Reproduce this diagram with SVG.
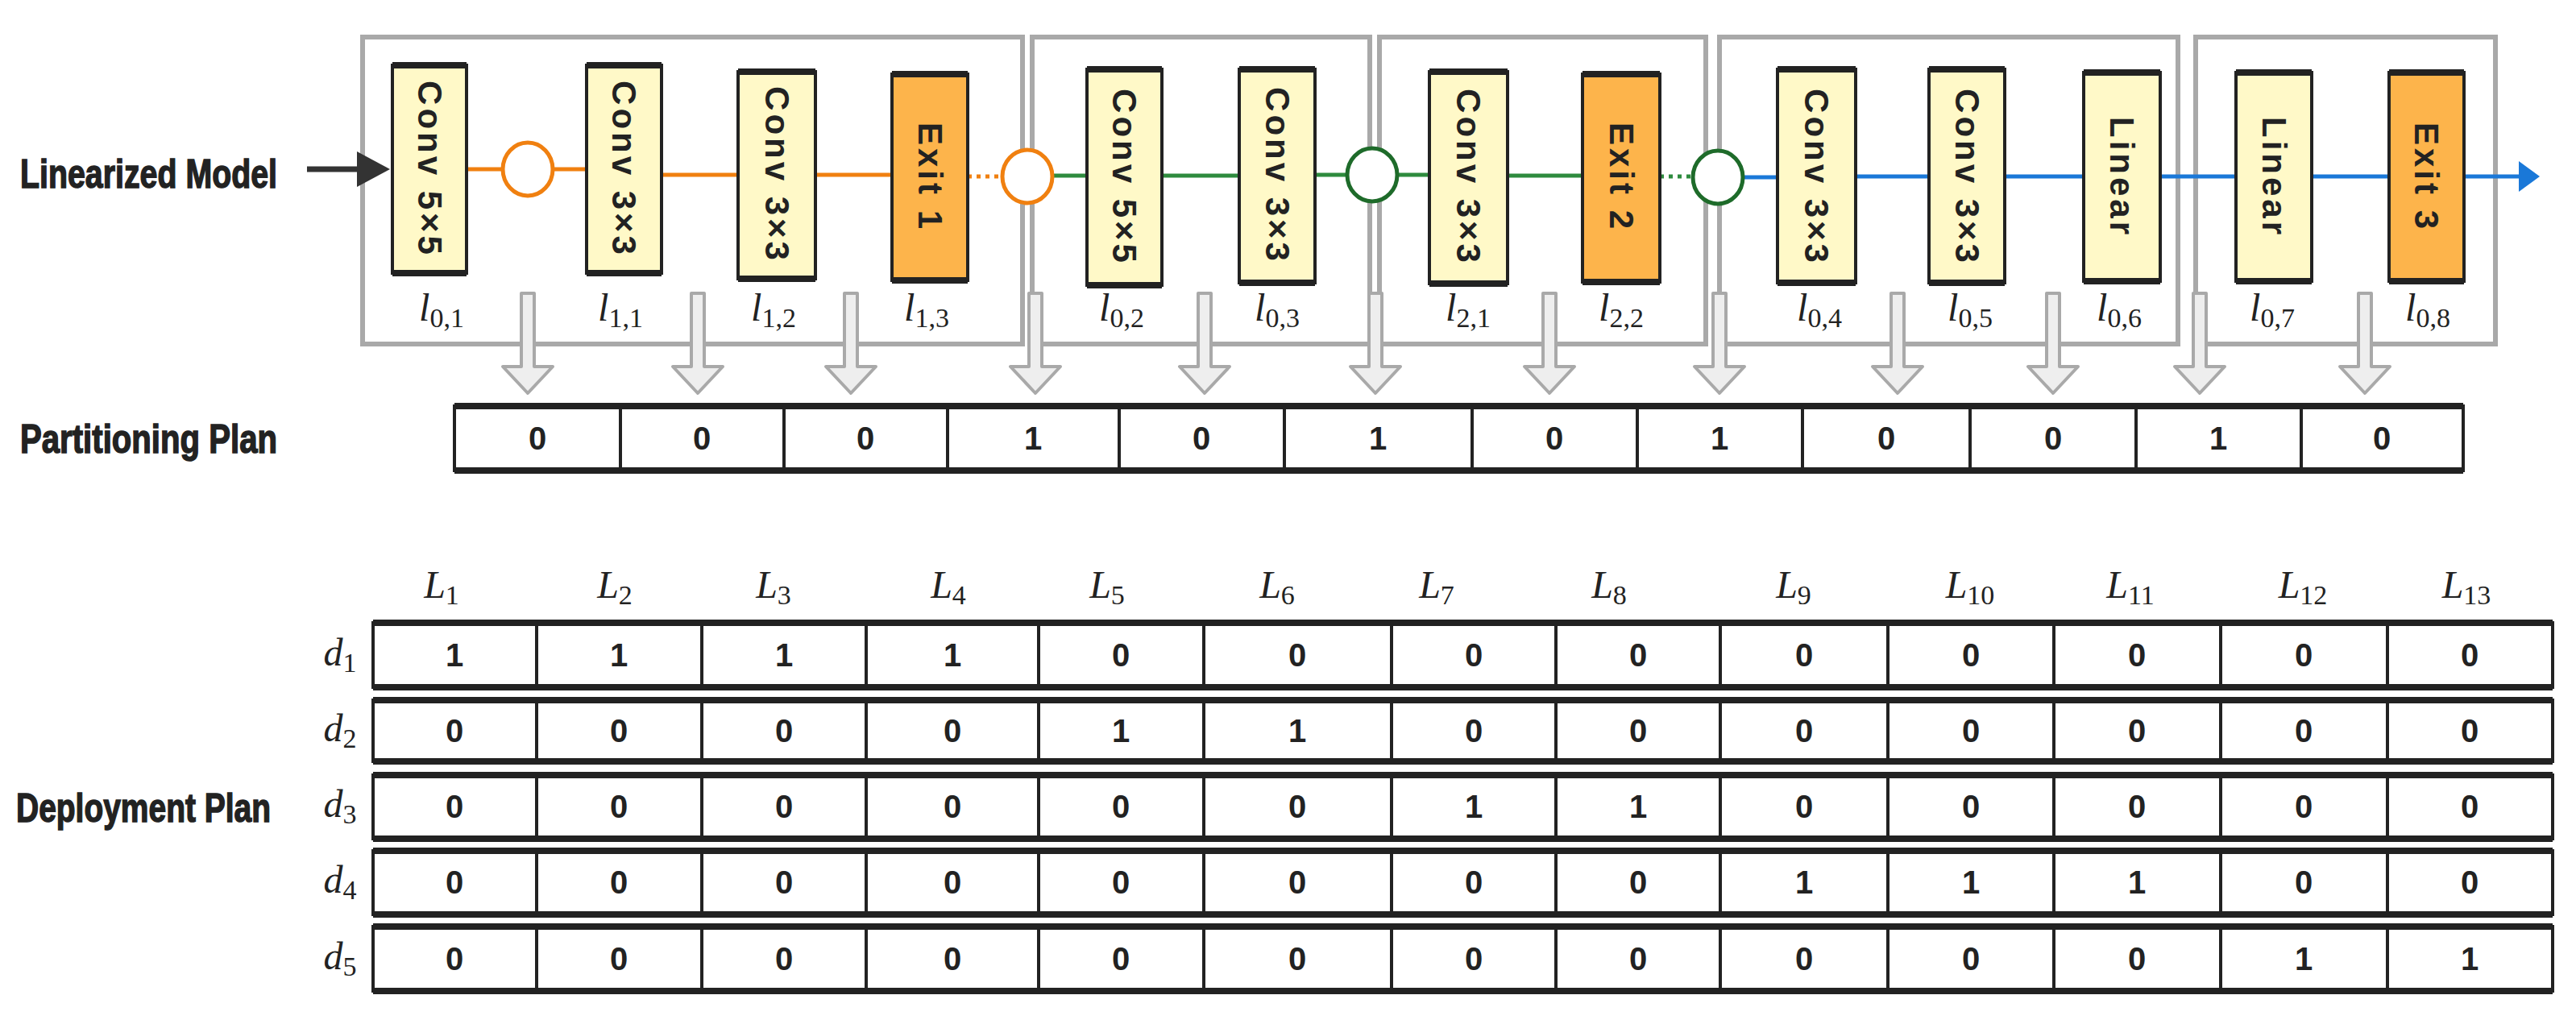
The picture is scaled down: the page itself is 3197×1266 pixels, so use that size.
<svg xmlns="http://www.w3.org/2000/svg" width="3197" height="1266" viewBox="0 0 3197 1266">
<style>
.bg{fill:#fff}
.outer{fill:none;stroke:#a9a9a9;stroke-width:6}
.blk{fill:#fff9c8;stroke:#222;stroke-width:4}
.exit{fill:#fdb44b;stroke:#222;stroke-width:4}
.edge{stroke:#222;stroke-width:8}
.bt{font-family:"Liberation Sans",Arial,sans-serif;font-weight:bold;font-size:42px;fill:#222;letter-spacing:4px;text-anchor:middle;dominant-baseline:central}
.ml{font-family:"Liberation Serif","Times New Roman",serif;font-style:italic;font-size:48px;fill:#222;text-anchor:middle}
.sub{font-style:normal;font-size:34px}
.hd{font-family:"Liberation Sans Narrow","Liberation Sans",sans-serif;font-weight:bold;font-size:50px;fill:#222;dominant-baseline:central;stroke:#222;stroke-width:1.5}
.cell{fill:#fff;stroke:#222;stroke-width:4}
.val{font-family:"Liberation Sans",Arial,sans-serif;font-weight:bold;font-size:40px;fill:#222;text-anchor:middle;dominant-baseline:central}
.darr{fill:#eee;stroke:#a9a9a9;stroke-width:4;stroke-linejoin:round}
.or{stroke:#f08010;stroke-width:5;fill:none}
.gr{stroke:#2e8b3e;stroke-width:5;fill:none}
.bl{stroke:#1a78d8;stroke-width:5;fill:none}
</style>
<rect class="bg" width="3197" height="1266"/>
<g id="groups">
<rect class="outer" x="450" y="46" width="819" height="381"/>
<rect class="outer" x="1281" y="46" width="419" height="381"/>
<rect class="outer" x="1712" y="46" width="405" height="381"/>
<rect class="outer" x="2134" y="46" width="569" height="381"/>
<rect class="outer" x="2725" y="46" width="372" height="381"/>
</g>
<g id="connectors">
<line x1="381" y1="210" x2="455" y2="210" stroke="#333" stroke-width="7"/>
<path d="M443,188 L484,210 L443,232 z" fill="#333"/>
<line class="or" x1="579" y1="210" x2="623" y2="210"/>
<line class="or" x1="687" y1="210" x2="728" y2="210"/>
<line class="or" x1="821" y1="217" x2="916" y2="217"/>
<line class="or" x1="1012" y1="217" x2="1107" y2="217"/>
<line class="or" x1="1201" y1="219" x2="1243" y2="219" stroke-dasharray="5,6"/>
<line class="gr" x1="1307" y1="218" x2="1349" y2="218"/>
<line class="gr" x1="1442" y1="218" x2="1538" y2="218"/>
<line class="gr" x1="1632" y1="217" x2="1671" y2="217"/>
<line class="gr" x1="1735" y1="217" x2="1774" y2="217"/>
<line class="gr" x1="1871" y1="218" x2="1964" y2="218"/>
<line class="gr" x1="2060" y1="219" x2="2100" y2="219" stroke-dasharray="5,6"/>
<line class="bl" x1="2164" y1="220" x2="2206" y2="220"/>
<line class="bl" x1="2303" y1="219" x2="2394" y2="219"/>
<line class="bl" x1="2488" y1="219" x2="2586" y2="219"/>
<line class="bl" x1="2681" y1="219" x2="2775" y2="219"/>
<line class="bl" x1="2869" y1="219" x2="2965" y2="219"/>
<line class="bl" x1="3058" y1="219" x2="3130" y2="219"/>
<path d="M3126,200 L3152,219 L3126,238 z" fill="#1a78d8"/>
<ellipse cx="655" cy="210" rx="31" ry="33" fill="#fff" stroke="#f08010" stroke-width="5"/>
<ellipse cx="1275" cy="219" rx="31" ry="33" fill="#fff" stroke="#f08010" stroke-width="5"/>
<ellipse cx="1703" cy="217" rx="31" ry="33" fill="#fff" stroke="#1e6b2a" stroke-width="5"/>
<ellipse cx="2132" cy="220" rx="31" ry="33" fill="#fff" stroke="#1e6b2a" stroke-width="5"/>
</g>
<g id="n1"><rect class="blk" x="487" y="81" width="92" height="258"/><line class="edge" x1="487" y1="81" x2="579" y2="81"/><line class="edge" x1="487" y1="339" x2="579" y2="339"/><text class="bt" transform="translate(533,210) rotate(90)">Conv 5×5</text></g>
<g id="n2"><rect class="blk" x="728" y="81" width="93" height="258"/><line class="edge" x1="728" y1="81" x2="821" y2="81"/><line class="edge" x1="728" y1="339" x2="821" y2="339"/><text class="bt" transform="translate(774,210) rotate(90)">Conv 3×3</text></g>
<g id="n3"><rect class="blk" x="916" y="89" width="96" height="257"/><line class="edge" x1="916" y1="89" x2="1012" y2="89"/><line class="edge" x1="916" y1="346" x2="1012" y2="346"/><text class="bt" transform="translate(964,217) rotate(90)">Conv 3×3</text></g>
<g id="n4"><rect class="exit" x="1107" y="92" width="94" height="256"/><line class="edge" x1="1107" y1="92" x2="1201" y2="92"/><line class="edge" x1="1107" y1="348" x2="1201" y2="348"/><text class="bt" transform="translate(1154,220) rotate(90)">Exit 1</text></g>
<g id="n5"><rect class="blk" x="1349" y="86" width="93" height="268"/><line class="edge" x1="1349" y1="86" x2="1442" y2="86"/><line class="edge" x1="1349" y1="354" x2="1442" y2="354"/><text class="bt" transform="translate(1395,220) rotate(90)">Conv 5×5</text></g>
<g id="n6"><rect class="blk" x="1538" y="86" width="94" height="265"/><line class="edge" x1="1538" y1="86" x2="1632" y2="86"/><line class="edge" x1="1538" y1="351" x2="1632" y2="351"/><text class="bt" transform="translate(1585,218) rotate(90)">Conv 3×3</text></g>
<g id="n7"><rect class="blk" x="1774" y="89" width="97" height="263"/><line class="edge" x1="1774" y1="89" x2="1871" y2="89"/><line class="edge" x1="1774" y1="352" x2="1871" y2="352"/><text class="bt" transform="translate(1822,220) rotate(90)">Conv 3×3</text></g>
<g id="n8"><rect class="exit" x="1964" y="92" width="96" height="258"/><line class="edge" x1="1964" y1="92" x2="2060" y2="92"/><line class="edge" x1="1964" y1="350" x2="2060" y2="350"/><text class="bt" transform="translate(2012,220) rotate(90)">Exit 2</text></g>
<g id="n9"><rect class="blk" x="2206" y="86" width="97" height="265"/><line class="edge" x1="2206" y1="86" x2="2303" y2="86"/><line class="edge" x1="2206" y1="351" x2="2303" y2="351"/><text class="bt" transform="translate(2254,220) rotate(90)">Conv 3×3</text></g>
<g id="n10"><rect class="blk" x="2394" y="86" width="94" height="265"/><line class="edge" x1="2394" y1="86" x2="2488" y2="86"/><line class="edge" x1="2394" y1="351" x2="2488" y2="351"/><text class="bt" transform="translate(2441,220) rotate(90)">Conv 3×3</text></g>
<g id="n11"><rect class="blk" x="2586" y="90" width="95" height="259"/><line class="edge" x1="2586" y1="90" x2="2681" y2="90"/><line class="edge" x1="2586" y1="349" x2="2681" y2="349"/><text class="bt" transform="translate(2633,220) rotate(90)">Linear</text></g>
<g id="n12"><rect class="blk" x="2775" y="90" width="94" height="259"/><line class="edge" x1="2775" y1="90" x2="2869" y2="90"/><line class="edge" x1="2775" y1="349" x2="2869" y2="349"/><text class="bt" transform="translate(2822,220) rotate(90)">Linear</text></g>
<g id="n13"><rect class="exit" x="2965" y="90" width="93" height="259"/><line class="edge" x1="2965" y1="90" x2="3058" y2="90"/><line class="edge" x1="2965" y1="349" x2="3058" y2="349"/><text class="bt" transform="translate(3011,220) rotate(90)">Exit 3</text></g>
<g id="layer-labels">
<text class="ml" x="548" y="398">l<tspan class="sub" dy="8">0,1</tspan></text>
<text class="ml" x="770" y="398">l<tspan class="sub" dy="8">1,1</tspan></text>
<text class="ml" x="960" y="398">l<tspan class="sub" dy="8">1,2</tspan></text>
<text class="ml" x="1150" y="398">l<tspan class="sub" dy="8">1,3</tspan></text>
<text class="ml" x="1392" y="398">l<tspan class="sub" dy="8">0,2</tspan></text>
<text class="ml" x="1585" y="398">l<tspan class="sub" dy="8">0,3</tspan></text>
<text class="ml" x="1822" y="398">l<tspan class="sub" dy="8">2,1</tspan></text>
<text class="ml" x="2012" y="398">l<tspan class="sub" dy="8">2,2</tspan></text>
<text class="ml" x="2258" y="398">l<tspan class="sub" dy="8">0,4</tspan></text>
<text class="ml" x="2445" y="398">l<tspan class="sub" dy="8">0,5</tspan></text>
<text class="ml" x="2630" y="398">l<tspan class="sub" dy="8">0,6</tspan></text>
<text class="ml" x="2820" y="398">l<tspan class="sub" dy="8">0,7</tspan></text>
<text class="ml" x="3013" y="398">l<tspan class="sub" dy="8">0,8</tspan></text>
</g>
<g id="down-arrows">
<path class="darr" d="M647,364 h16 v91 h23 l-31,33 l-31,-33 h23 z"/>
<path class="darr" transform="translate(211,0)" d="M647,364 h16 v91 h23 l-31,33 l-31,-33 h23 z"/>
<path class="darr" transform="translate(401,0)" d="M647,364 h16 v91 h23 l-31,33 l-31,-33 h23 z"/>
<path class="darr" transform="translate(630,0)" d="M647,364 h16 v91 h23 l-31,33 l-31,-33 h23 z"/>
<path class="darr" transform="translate(840,0)" d="M647,364 h16 v91 h23 l-31,33 l-31,-33 h23 z"/>
<path class="darr" transform="translate(1052,0)" d="M647,364 h16 v91 h23 l-31,33 l-31,-33 h23 z"/>
<path class="darr" transform="translate(1268,0)" d="M647,364 h16 v91 h23 l-31,33 l-31,-33 h23 z"/>
<path class="darr" transform="translate(1479,0)" d="M647,364 h16 v91 h23 l-31,33 l-31,-33 h23 z"/>
<path class="darr" transform="translate(1700,0)" d="M647,364 h16 v91 h23 l-31,33 l-31,-33 h23 z"/>
<path class="darr" transform="translate(1893,0)" d="M647,364 h16 v91 h23 l-31,33 l-31,-33 h23 z"/>
<path class="darr" transform="translate(2075,0)" d="M647,364 h16 v91 h23 l-31,33 l-31,-33 h23 z"/>
<path class="darr" transform="translate(2280,0)" d="M647,364 h16 v91 h23 l-31,33 l-31,-33 h23 z"/>
</g>
<g id="row-labels">
<text class="hd" x="25" y="216" textLength="319" lengthAdjust="spacingAndGlyphs">Linearized Model</text>
<text class="hd" x="25" y="545" textLength="319" lengthAdjust="spacingAndGlyphs">Partitioning Plan</text>
<text class="hd" x="20" y="1003" textLength="316" lengthAdjust="spacingAndGlyphs">Deployment Plan</text>
</g>
<g id="partition-plan">
<rect class="cell" x="564" y="504" width="206" height="80"/><rect class="cell" x="770" y="504" width="203" height="80"/><rect class="cell" x="973" y="504" width="203" height="80"/><rect class="cell" x="1176" y="504" width="213" height="80"/><rect class="cell" x="1389" y="504" width="205" height="80"/><rect class="cell" x="1594" y="504" width="233" height="80"/><rect class="cell" x="1827" y="504" width="205" height="80"/><rect class="cell" x="2032" y="504" width="205" height="80"/><rect class="cell" x="2237" y="504" width="208" height="80"/><rect class="cell" x="2445" y="504" width="206" height="80"/><rect class="cell" x="2651" y="504" width="205" height="80"/><rect class="cell" x="2856" y="504" width="201" height="80"/>
<line class="edge" x1="564" y1="504" x2="3057" y2="504"/><line class="edge" x1="564" y1="584" x2="3057" y2="584"/>
<text class="val" x="667" y="544">0</text><text class="val" x="871" y="544">0</text><text class="val" x="1074" y="544">0</text><text class="val" x="1282" y="544">1</text><text class="val" x="1491" y="544">0</text><text class="val" x="1710" y="544">1</text><text class="val" x="1929" y="544">0</text><text class="val" x="2134" y="544">1</text><text class="val" x="2341" y="544">0</text><text class="val" x="2548" y="544">0</text><text class="val" x="2753" y="544">1</text><text class="val" x="2956" y="544">0</text>
</g>
<g id="deploy-headers">
<text class="ml" x="548" y="742">L<tspan class="sub" dy="8">1</tspan></text>
<text class="ml" x="763" y="742">L<tspan class="sub" dy="8">2</tspan></text>
<text class="ml" x="960" y="742">L<tspan class="sub" dy="8">3</tspan></text>
<text class="ml" x="1177" y="742">L<tspan class="sub" dy="8">4</tspan></text>
<text class="ml" x="1374" y="742">L<tspan class="sub" dy="8">5</tspan></text>
<text class="ml" x="1585" y="742">L<tspan class="sub" dy="8">6</tspan></text>
<text class="ml" x="1783" y="742">L<tspan class="sub" dy="8">7</tspan></text>
<text class="ml" x="1997" y="742">L<tspan class="sub" dy="8">8</tspan></text>
<text class="ml" x="2226" y="742">L<tspan class="sub" dy="8">9</tspan></text>
<text class="ml" x="2445" y="742">L<tspan class="sub" dy="8">10</tspan></text>
<text class="ml" x="2644" y="742">L<tspan class="sub" dy="8">11</tspan></text>
<text class="ml" x="2858" y="742">L<tspan class="sub" dy="8">12</tspan></text>
<text class="ml" x="3061" y="742">L<tspan class="sub" dy="8">13</tspan></text>
<text class="ml" x="422" y="826">d<tspan class="sub" dy="8">1</tspan></text>
<text class="ml" x="422" y="920">d<tspan class="sub" dy="8">2</tspan></text>
<text class="ml" x="422" y="1014">d<tspan class="sub" dy="8">3</tspan></text>
<text class="ml" x="422" y="1108">d<tspan class="sub" dy="8">4</tspan></text>
<text class="ml" x="422" y="1203">d<tspan class="sub" dy="8">5</tspan></text>
</g>
<g id="deployment-plan">
<g id="grid-lines" stroke="#222" stroke-width="4" fill="#fff">
<rect x="463" y="773" width="2705" height="80"/><rect x="463" y="869" width="2705" height="76"/><rect x="463" y="962" width="2705" height="79"/><rect x="463" y="1056" width="2705" height="79"/><rect x="463" y="1150" width="2705" height="80"/>
</g>
<g stroke="#222" stroke-width="8">
<line x1="463" y1="773" x2="3168" y2="773"/><line x1="463" y1="853" x2="3168" y2="853"/>
<line x1="463" y1="869" x2="3168" y2="869"/><line x1="463" y1="945" x2="3168" y2="945"/>
<line x1="463" y1="962" x2="3168" y2="962"/><line x1="463" y1="1041" x2="3168" y2="1041"/>
<line x1="463" y1="1056" x2="3168" y2="1056"/><line x1="463" y1="1135" x2="3168" y2="1135"/>
<line x1="463" y1="1150" x2="3168" y2="1150"/><line x1="463" y1="1230" x2="3168" y2="1230"/>
</g>
<g stroke="#222" stroke-width="4">
<path d="M666,773V853M871,773V853M1075,773V853M1289,773V853M1494,773V853M1727,773V853M1931,773V853M2135,773V853M2343,773V853M2549,773V853M2756,773V853M2963,773V853"/>
<path transform="translate(0,96)" d="M666,773V849M871,773V849M1075,773V849M1289,773V849M1494,773V849M1727,773V849M1931,773V849M2135,773V849M2343,773V849M2549,773V849M2756,773V849M2963,773V849"/>
<path transform="translate(0,189)" d="M666,773V852M871,773V852M1075,773V852M1289,773V852M1494,773V852M1727,773V852M1931,773V852M2135,773V852M2343,773V852M2549,773V852M2756,773V852M2963,773V852"/>
<path transform="translate(0,283)" d="M666,773V852M871,773V852M1075,773V852M1289,773V852M1494,773V852M1727,773V852M1931,773V852M2135,773V852M2343,773V852M2549,773V852M2756,773V852M2963,773V852"/>
<path transform="translate(0,377)" d="M666,773V853M871,773V853M1075,773V853M1289,773V853M1494,773V853M1727,773V853M1931,773V853M2135,773V853M2343,773V853M2549,773V853M2756,773V853M2963,773V853"/>
</g>
<g id="r1"><text class="val" x="564" y="813">1</text><text class="val" x="768" y="813">1</text><text class="val" x="973" y="813">1</text><text class="val" x="1182" y="813">1</text><text class="val" x="1391" y="813">0</text><text class="val" x="1610" y="813">0</text><text class="val" x="1829" y="813">0</text><text class="val" x="2033" y="813">0</text><text class="val" x="2239" y="813">0</text><text class="val" x="2446" y="813">0</text><text class="val" x="2652" y="813">0</text><text class="val" x="2859" y="813">0</text><text class="val" x="3065" y="813">0</text></g>
<g id="r2"><text class="val" x="564" y="907">0</text><text class="val" x="768" y="907">0</text><text class="val" x="973" y="907">0</text><text class="val" x="1182" y="907">0</text><text class="val" x="1391" y="907">1</text><text class="val" x="1610" y="907">1</text><text class="val" x="1829" y="907">0</text><text class="val" x="2033" y="907">0</text><text class="val" x="2239" y="907">0</text><text class="val" x="2446" y="907">0</text><text class="val" x="2652" y="907">0</text><text class="val" x="2859" y="907">0</text><text class="val" x="3065" y="907">0</text></g>
<g id="r3"><text class="val" x="564" y="1001">0</text><text class="val" x="768" y="1001">0</text><text class="val" x="973" y="1001">0</text><text class="val" x="1182" y="1001">0</text><text class="val" x="1391" y="1001">0</text><text class="val" x="1610" y="1001">0</text><text class="val" x="1829" y="1001">1</text><text class="val" x="2033" y="1001">1</text><text class="val" x="2239" y="1001">0</text><text class="val" x="2446" y="1001">0</text><text class="val" x="2652" y="1001">0</text><text class="val" x="2859" y="1001">0</text><text class="val" x="3065" y="1001">0</text></g>
<g id="r4"><text class="val" x="564" y="1095">0</text><text class="val" x="768" y="1095">0</text><text class="val" x="973" y="1095">0</text><text class="val" x="1182" y="1095">0</text><text class="val" x="1391" y="1095">0</text><text class="val" x="1610" y="1095">0</text><text class="val" x="1829" y="1095">0</text><text class="val" x="2033" y="1095">0</text><text class="val" x="2239" y="1095">1</text><text class="val" x="2446" y="1095">1</text><text class="val" x="2652" y="1095">1</text><text class="val" x="2859" y="1095">0</text><text class="val" x="3065" y="1095">0</text></g>
<g id="r5"><text class="val" x="564" y="1190">0</text><text class="val" x="768" y="1190">0</text><text class="val" x="973" y="1190">0</text><text class="val" x="1182" y="1190">0</text><text class="val" x="1391" y="1190">0</text><text class="val" x="1610" y="1190">0</text><text class="val" x="1829" y="1190">0</text><text class="val" x="2033" y="1190">0</text><text class="val" x="2239" y="1190">0</text><text class="val" x="2446" y="1190">0</text><text class="val" x="2652" y="1190">0</text><text class="val" x="2859" y="1190">1</text><text class="val" x="3065" y="1190">1</text></g>
</g>
</svg>
